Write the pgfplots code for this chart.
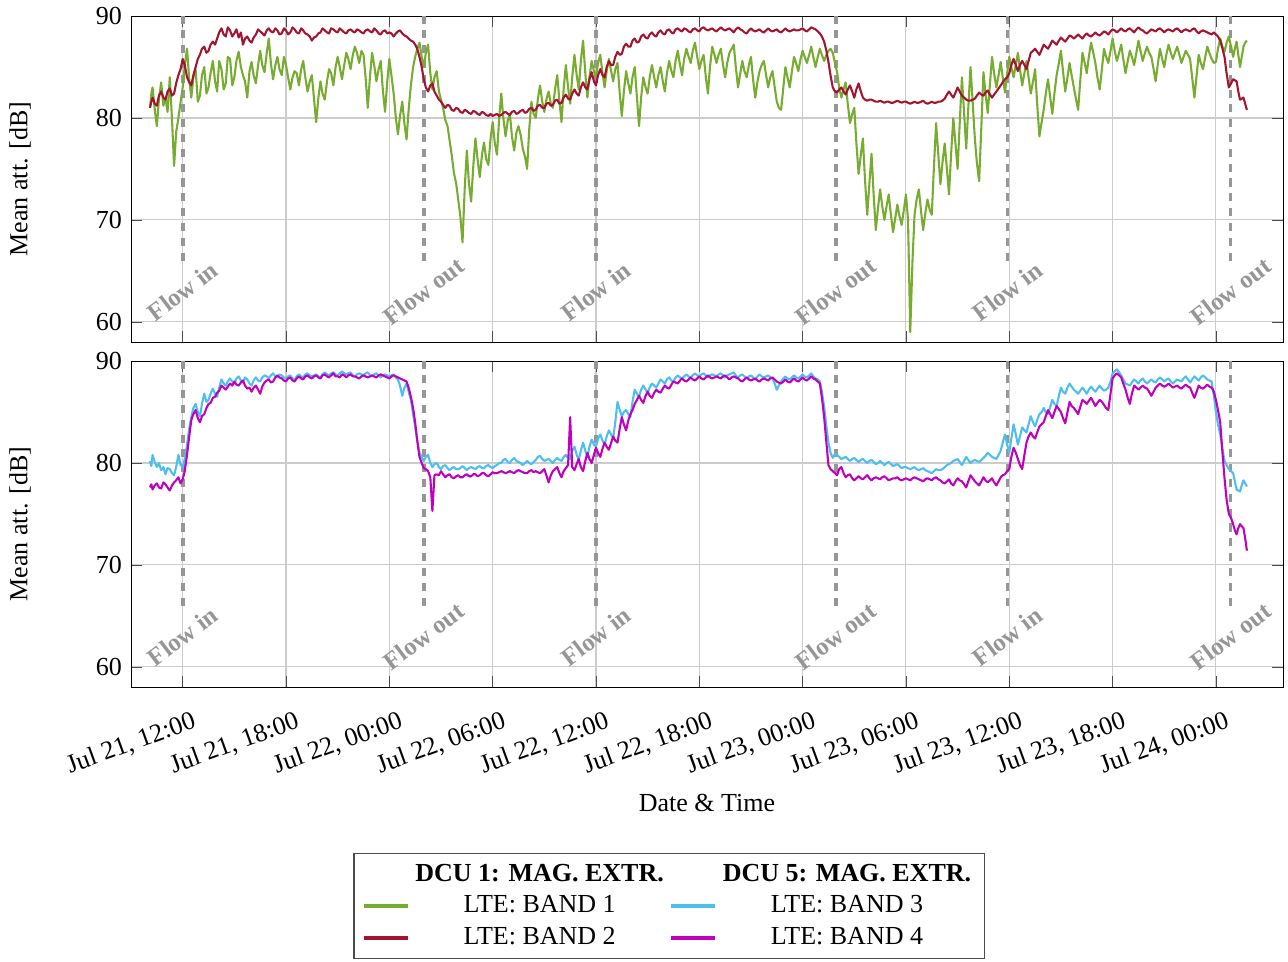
\documentclass[border=0pt]{standalone}
\usepackage{fontspec}
\setmainfont{Liberation Serif}
\usepackage{pgfplots}
\usepackage{pgfplotstable}
\pgfplotsset{compat=1.18}

\definecolor{bandA}{RGB}{119,172,48}
\definecolor{bandB}{RGB}{162,20,47}
\definecolor{bandC}{RGB}{77,190,238}
\definecolor{bandD}{RGB}{191,0,191}
\definecolor{flowgray}{RGB}{150,150,150}

% t = hours since Jul 21, 00:00; b1..b4 = mean attenuation in dB
\pgfplotstableread{
t b1 b2 b3 b4
10.1 81.0 81.0 80.2 77.6
10.18 82.4 81.6 79.7 77.9
10.25 83.0 82.0 80.8 77.4
10.38 80.8 81.4 80.1 77.8
10.5 79.2 81.2 79.6 78.0
10.62 81.8 82.2 80.0 77.6
10.75 83.5 82.6 79.3 77.5
10.88 81.2 82.0 79.6 78.1
11.0 82.0 81.8 78.9 77.9
11.12 80.6 82.6 79.5 77.6
11.25 84.0 82.9 79.4 77.3
11.38 79.8 82.2 79.0 77.8
11.5 75.3 82.4 78.8 78.1
11.62 78.6 83.4 79.6 78.3
11.75 80.0 84.2 80.8 78.6
11.88 81.6 84.8 79.8 78.0
12.0 83.0 85.8 79.6 78.4
12.12 85.2 85.2 80.4 79.2
12.25 86.8 84.0 81.8 80.8
12.38 83.8 83.5 83.4 82.6
12.5 82.0 83.2 84.5 84.2
12.62 84.0 84.2 85.4 84.8
12.75 84.8 85.0 85.8 85.2
12.88 81.6 85.8 85.0 84.4
13.0 82.2 86.2 84.6 84.0
13.12 84.2 86.8 85.8 84.6
13.25 85.0 87.0 86.8 84.8
13.38 82.4 86.4 86.0 85.4
13.5 83.0 86.6 86.2 85.8
13.62 84.4 87.2 86.8 85.9
13.75 85.6 87.5 87.3 86.4
13.88 83.6 87.2 86.8 86.5
14.0 82.6 87.8 86.5 86.9
14.12 85.6 88.4 87.4 87.1
14.25 84.8 88.8 88.2 87.6
14.38 82.8 88.2 87.8 87.4
14.5 83.4 88.0 87.6 87.2
14.62 86.0 88.9 88.0 87.5
14.75 85.8 88.6 88.3 87.8
14.88 83.2 88.0 88.0 87.6
15.0 84.0 88.3 87.8 88.0
15.12 85.6 88.7 88.3 87.7
15.25 86.5 87.9 88.5 87.6
15.38 85.0 88.4 88.1 87.9
15.5 84.2 87.2 87.9 88.1
15.62 83.6 87.8 88.4 87.6
15.75 82.0 88.0 88.2 87.3
15.88 84.6 87.6 87.8 87.4
16.0 85.5 87.4 87.6 87.0
16.12 84.2 87.9 88.1 87.4
16.25 83.4 88.2 88.4 87.6
16.38 85.2 88.7 88.1 87.2
16.5 86.6 88.5 88.0 86.8
16.62 85.2 88.3 88.4 87.5
16.75 84.5 88.1 88.6 87.9
16.88 86.4 88.6 88.5 88.1
17.0 87.8 88.8 88.3 88.2
17.12 85.4 88.5 88.6 87.9
17.25 83.8 88.4 88.8 88.0
17.38 85.2 88.8 88.5 88.4
17.5 86.0 88.6 88.4 88.6
17.62 84.8 88.2 88.7 88.4
17.75 84.2 88.3 88.6 88.3
17.88 86.0 88.8 88.4 88.1
18.0 85.2 88.6 88.3 88.0
18.12 84.0 88.2 88.5 88.3
18.25 82.8 88.4 88.6 88.4
18.38 84.0 88.9 88.3 88.1
18.5 84.6 88.7 88.2 88.0
18.62 84.4 88.4 88.5 88.3
18.75 83.2 88.3 88.7 88.5
18.88 84.8 88.8 88.5 88.3
19.0 85.6 88.6 88.4 88.2
19.12 84.0 88.3 88.7 88.5
19.25 82.6 88.2 88.8 88.6
19.38 83.6 88.0 88.6 88.4
19.5 84.2 87.6 88.5 88.3
19.62 82.0 87.9 88.6 88.5
19.75 79.6 88.0 88.7 88.6
19.88 82.0 88.3 88.5 88.4
20.0 83.6 88.4 88.4 88.3
20.12 82.4 88.8 88.7 88.6
20.25 81.8 88.6 88.9 88.7
20.38 83.6 88.4 88.7 88.5
20.5 84.8 88.3 88.6 88.4
20.62 84.4 88.8 88.8 88.6
20.75 83.2 88.7 88.9 88.8
20.88 85.0 88.5 88.7 88.5
21.0 86.0 88.4 88.6 88.5
21.12 85.0 88.8 88.8 88.4
21.25 83.8 88.6 89.0 88.7
21.38 85.2 88.4 88.8 88.6
21.5 86.4 88.3 88.7 88.4
21.62 85.8 88.6 88.8 88.6
21.75 84.8 88.7 88.9 88.7
21.88 86.2 88.5 88.6 88.5
22.0 87.0 88.4 88.5 88.5
22.12 86.4 88.7 88.7 88.4
22.25 85.4 88.6 88.8 88.3
22.38 86.6 88.4 88.7 88.5
22.5 86.2 88.3 88.6 88.6
22.62 84.0 88.6 88.8 88.5
22.75 81.0 88.7 88.9 88.4
22.88 84.2 88.5 88.6 88.5
23.0 86.4 88.4 88.5 88.6
23.12 85.2 88.8 88.7 88.5
23.25 83.6 88.6 88.8 88.4
23.38 84.8 88.3 88.6 88.6
23.5 85.6 88.2 88.4 88.7
23.62 82.8 88.5 88.6 88.6
23.75 80.6 88.6 88.7 88.5
23.88 83.6 88.3 88.6 88.4
24.0 85.8 88.4 88.5 88.3
24.12 84.2 88.3 88.6 88.5
24.25 82.4 88.0 88.7 88.6
24.38 80.0 88.3 88.4 88.5
24.5 78.4 88.5 88.2 88.4
24.62 80.2 88.6 87.6 88.3
24.75 81.6 88.3 86.6 88.2
24.88 79.4 88.1 87.4 88.1
25.0 77.9 88.0 87.8 88.0
25.12 80.8 87.8 87.0 87.4
25.25 83.2 87.6 86.2 86.5
25.38 85.0 87.5 84.8 85.4
25.5 86.0 87.2 83.5 84.0
25.62 86.8 86.8 82.2 82.2
25.75 87.4 86.0 81.0 80.6
25.88 86.0 85.0 80.6 80.0
26.0 85.0 83.8 80.2 79.5
26.12 86.4 83.0 80.6 79.4
26.25 87.2 82.6 80.8 79.2
26.38 84.4 83.2 80.0 78.6
26.5 82.8 83.4 79.6 75.3
26.62 84.0 82.6 79.9 78.8
26.75 84.6 82.2 80.0 78.9
26.88 82.6 81.8 79.6 78.8
27.0 81.8 81.6 79.4 79.2
27.12 81.0 81.3 79.7 78.9
27.25 79.8 81.0 79.8 78.6
27.38 79.2 81.3 79.5 78.8
27.5 77.8 81.2 79.3 78.9
27.62 76.4 80.8 79.5 78.6
27.75 74.6 80.7 79.6 78.5
27.88 73.6 81.0 79.4 78.7
28.0 72.0 80.9 79.4 78.8
28.12 70.4 80.6 79.5 78.6
28.25 67.8 80.5 79.7 78.6
28.38 73.2 80.8 79.5 78.8
28.5 76.8 80.7 79.3 78.9
28.62 73.6 80.5 79.5 78.7
28.75 71.8 80.4 79.6 78.7
28.88 75.4 80.7 79.5 78.9
29.0 78.0 80.6 79.4 78.9
29.12 76.0 80.4 79.6 78.7
29.25 74.2 80.3 79.7 78.8
29.38 76.4 80.6 79.5 79.0
29.5 77.6 80.5 79.5 79.0
29.62 76.0 80.3 79.7 78.8
29.75 75.4 80.2 79.8 78.7
29.88 78.0 80.4 79.6 78.9
30.0 79.6 80.2 79.5 79.1
30.12 77.6 80.3 79.7 79.0
30.25 76.4 80.4 79.8 79.0
30.38 80.0 80.2 80.0 79.1
30.5 82.4 80.3 80.0 79.2
30.62 80.0 80.5 80.3 79.1
30.75 78.2 80.6 80.4 79.0
30.88 79.8 80.4 80.1 79.1
31.0 80.4 80.3 80.0 79.2
31.12 78.2 80.6 80.3 79.1
31.25 76.8 80.7 80.5 79.0
31.38 78.6 80.4 80.2 79.2
31.5 79.2 80.5 80.1 79.3
31.62 78.4 80.7 80.0 79.2
31.75 77.0 80.8 79.8 79.1
31.88 76.2 80.5 80.0 79.0
32.0 75.0 80.6 80.2 79.0
32.12 78.8 80.9 80.0 79.2
32.25 81.6 81.0 79.9 79.3
32.38 80.4 80.7 80.1 79.1
32.5 80.0 80.8 80.3 79.2
32.62 81.8 81.2 80.6 79.1
32.75 83.2 81.3 80.7 79.0
32.88 81.6 81.0 80.4 79.2
33.0 80.6 81.0 80.2 79.4
33.12 81.8 81.4 80.3 78.8
33.25 82.6 81.5 80.4 78.1
33.38 81.4 81.2 80.2 78.8
33.5 81.0 81.3 80.0 79.2
33.62 82.8 81.7 80.3 79.4
33.75 84.2 81.8 80.5 79.6
33.88 81.6 81.4 80.3 79.0
34.0 79.6 81.5 80.2 78.6
34.12 82.8 82.0 80.6 79.2
34.25 85.2 82.3 80.8 79.5
34.38 83.0 81.9 80.5 79.8
34.5 81.4 81.8 80.4 84.5
34.62 84.0 82.4 81.2 79.6
34.75 86.2 82.8 81.6 79.3
34.88 84.2 82.4 80.8 79.9
35.0 82.8 82.2 80.3 80.4
35.12 85.6 83.0 81.2 79.6
35.25 87.6 83.5 82.0 79.2
35.38 84.4 83.0 81.2 80.2
35.5 82.0 82.8 80.6 81.0
35.62 84.0 83.8 81.6 80.4
35.75 85.6 84.5 82.3 80.0
35.88 84.6 83.6 81.8 80.8
36.0 84.0 83.2 81.6 81.5
36.12 85.4 84.2 82.4 81.0
36.25 86.2 84.8 82.8 80.6
36.38 84.4 84.2 82.2 81.4
36.5 83.0 84.0 81.8 82.0
36.62 84.6 85.0 82.6 81.6
36.75 85.8 85.6 83.2 81.3
36.88 84.6 85.2 82.8 82.0
37.0 83.6 85.2 82.4 82.6
37.12 84.8 86.0 84.0 82.2
37.25 85.4 86.5 86.0 82.0
37.38 82.4 86.2 85.2 83.4
37.5 80.2 86.3 84.6 84.5
37.62 82.6 87.0 85.0 83.8
37.75 84.6 87.3 85.2 83.2
37.88 83.4 87.0 84.8 84.2
38.0 82.4 87.0 84.5 84.8
38.12 84.0 87.6 86.0 85.2
38.25 85.0 87.8 87.2 85.8
38.38 82.0 87.4 86.8 86.2
38.5 79.2 87.5 86.5 86.6
38.62 82.0 88.0 87.2 86.2
38.75 84.0 88.2 87.6 85.9
38.88 83.0 87.9 87.2 86.6
39.0 82.4 87.8 86.9 87.0
39.12 84.0 88.2 87.4 86.6
39.25 85.2 88.4 87.8 86.4
39.38 84.0 88.1 87.6 86.9
39.5 83.0 88.0 87.4 87.2
39.62 84.2 88.4 87.8 87.0
39.75 85.0 88.6 88.2 86.9
39.88 83.6 88.3 88.0 87.3
40.0 82.6 88.2 87.8 87.6
40.12 84.4 88.6 88.2 87.4
40.25 85.6 88.7 88.4 87.3
40.38 84.6 88.4 88.1 87.7
40.5 84.0 88.3 88.0 88.0
40.62 85.6 88.7 88.4 87.9
40.75 86.6 88.8 88.6 87.8
40.88 85.2 88.6 88.4 88.1
41.0 84.2 88.5 88.3 88.3
41.12 85.8 88.8 88.5 88.1
41.25 86.8 88.7 88.7 88.0
41.38 86.0 88.5 88.5 88.2
41.5 85.4 88.4 88.4 88.4
41.62 86.6 88.7 88.6 88.2
41.75 87.4 88.8 88.8 88.1
41.88 86.0 88.6 88.6 88.3
42.0 84.8 88.5 88.5 88.5
42.12 85.6 88.8 88.7 88.3
42.25 86.2 88.9 88.8 88.2
42.38 84.0 88.7 88.6 88.4
42.5 82.4 88.6 88.4 88.6
42.62 85.0 88.7 88.6 88.4
42.75 87.0 88.8 88.7 88.3
42.88 86.2 88.6 88.6 88.4
43.0 85.4 88.5 88.5 88.5
43.12 86.2 88.7 88.7 88.4
43.25 86.8 88.9 88.8 88.3
43.38 85.2 88.7 88.6 88.5
43.5 84.0 88.6 88.4 88.6
43.62 85.4 88.7 88.6 88.4
43.75 86.4 88.8 88.7 88.2
43.88 86.8 88.6 88.8 88.4
44.0 87.2 88.4 88.9 88.5
44.12 85.0 88.7 88.6 88.4
44.25 83.0 88.9 88.4 88.3
44.38 84.4 88.7 88.6 88.1
44.5 85.6 88.6 88.7 88.0
44.62 84.6 88.4 88.5 88.2
44.75 84.0 88.3 88.3 88.4
44.88 85.2 88.6 88.5 88.2
45.0 86.0 88.8 88.6 88.1
45.12 83.8 88.6 88.4 88.2
45.25 82.0 88.5 88.2 88.3
45.38 83.6 88.6 88.5 88.1
45.5 84.6 88.7 88.7 88.0
45.62 85.2 88.5 88.5 88.2
45.75 85.6 88.4 88.4 88.3
45.88 84.2 88.6 88.5 88.2
46.0 83.0 88.8 88.6 88.1
46.12 84.0 88.6 88.4 88.3
46.25 84.6 88.5 88.3 88.4
46.38 83.0 88.6 87.8 88.2
46.5 81.6 88.7 87.2 88.0
46.62 81.0 88.5 87.6 87.9
46.75 80.8 88.4 88.0 87.8
46.88 83.0 88.6 88.3 88.0
47.0 85.0 88.8 88.5 88.2
47.12 84.0 88.6 88.3 88.0
47.25 83.0 88.5 88.2 87.9
47.38 84.6 88.6 88.4 88.1
47.5 86.0 88.7 88.6 88.3
47.62 85.4 88.6 88.4 88.1
47.75 84.6 88.6 88.3 88.0
47.88 85.8 88.7 88.5 88.2
48.0 86.6 88.8 88.7 88.4
48.12 86.0 88.6 88.5 88.2
48.25 85.4 88.5 88.4 88.1
48.38 86.2 88.7 88.6 88.3
48.5 87.0 88.9 88.8 88.5
48.62 86.0 88.8 88.5 88.3
48.75 85.0 88.7 88.3 88.2
48.88 86.0 88.5 88.2 88.0
49.0 86.8 88.3 88.0 87.8
49.12 86.2 88.0 87.0 86.4
49.25 85.6 87.5 85.5 84.5
49.38 86.2 86.6 83.6 82.0
49.5 86.6 85.5 82.0 79.8
49.62 86.8 84.2 81.0 79.4
49.75 86.4 83.0 80.5 79.2
49.88 85.4 82.6 80.9 79.0
50.0 84.5 82.5 80.8 78.8
50.12 83.0 82.8 80.6 79.4
50.25 82.0 83.0 80.4 79.6
50.38 82.8 82.6 80.5 79.0
50.5 83.5 82.3 80.6 78.6
50.62 81.4 82.8 80.4 78.8
50.75 79.5 83.2 80.2 78.9
50.88 80.4 82.6 80.4 78.5
51.0 81.0 82.0 80.5 78.3
51.12 77.6 82.8 80.3 78.5
51.25 74.5 83.4 80.1 78.7
51.38 76.4 82.6 80.3 78.5
51.5 78.0 82.0 80.4 78.4
51.62 74.0 81.8 80.2 78.6
51.75 70.5 81.7 80.0 78.8
51.88 73.6 81.8 80.2 78.5
52.0 76.5 81.8 80.3 78.3
52.12 72.6 81.7 80.1 78.5
52.25 69.0 81.6 79.9 78.6
52.38 71.2 81.6 80.0 78.5
52.5 73.0 81.7 80.2 78.4
52.62 71.4 81.6 80.0 78.6
52.75 70.0 81.5 79.8 78.7
52.88 71.4 81.6 80.0 78.5
53.0 72.5 81.6 80.1 78.3
53.12 70.6 81.5 79.9 78.4
53.25 68.8 81.5 79.7 78.5
53.38 70.2 81.6 79.8 78.5
53.5 71.5 81.7 79.9 78.6
53.62 70.4 81.6 79.7 78.4
53.75 69.5 81.5 79.5 78.3
53.88 71.0 81.6 79.6 78.4
54.0 72.5 81.6 79.6 78.5
54.12 70.0 81.5 79.5 78.4
54.25 59.0 81.4 79.4 78.3
54.38 66.0 81.5 79.5 78.5
54.5 70.5 81.6 79.6 78.6
54.62 72.0 81.5 79.4 78.5
54.75 73.0 81.5 79.3 78.4
54.88 70.8 81.6 79.4 78.3
55.0 69.0 81.7 79.5 78.2
55.12 70.6 81.5 79.3 78.4
55.25 72.0 81.4 79.2 78.5
55.38 71.0 81.5 79.1 78.4
55.5 70.5 81.6 79.0 78.3
55.62 75.0 81.5 79.2 78.5
55.75 79.5 81.5 79.4 78.6
55.88 76.4 81.6 79.3 78.4
56.0 73.5 81.6 79.3 78.3
56.12 75.6 81.7 79.4 78.1
56.25 77.5 81.9 79.6 78.0
56.38 75.0 82.3 79.8 78.2
56.5 72.5 82.6 79.9 78.4
56.62 76.4 82.3 80.0 78.0
56.75 80.0 82.0 80.2 77.8
56.88 77.4 82.5 80.3 78.2
57.0 75.0 83.0 80.4 78.5
57.12 79.4 82.6 80.1 78.3
57.25 84.0 82.2 79.8 78.2
57.38 80.4 82.0 80.2 77.9
57.5 77.0 81.8 80.6 77.6
57.62 81.0 81.7 80.3 78.2
57.75 85.0 81.7 80.0 78.8
57.88 81.4 81.8 80.2 78.5
58.0 78.0 81.9 80.3 78.2
58.12 75.6 82.2 80.2 78.0
58.25 73.8 82.5 80.1 77.8
58.38 79.2 82.3 80.3 78.2
58.5 84.5 82.2 80.5 78.6
58.62 82.4 82.5 80.7 78.3
58.75 80.5 82.7 81.0 78.1
58.88 83.4 82.3 80.8 78.3
59.0 86.0 82.0 80.6 78.5
59.12 84.4 82.3 80.5 78.1
59.25 83.0 82.6 80.4 77.8
59.38 84.2 82.9 80.8 78.2
59.5 85.5 83.2 81.2 78.6
59.62 84.0 83.5 82.0 78.8
59.75 82.5 83.8 82.8 78.9
59.88 84.4 84.0 81.8 79.2
60.0 86.0 84.4 81.0 79.4
60.12 85.0 85.2 82.4 80.6
60.25 84.0 85.8 83.8 81.5
60.38 85.2 85.2 82.8 81.0
60.5 86.4 84.6 81.8 80.4
60.62 84.8 85.2 82.6 79.8
60.75 83.2 85.6 83.5 79.4
60.88 84.4 85.2 83.2 80.8
61.0 85.6 84.8 83.0 82.0
61.12 84.0 85.6 83.8 82.6
61.25 82.4 86.4 84.6 83.0
61.38 83.6 86.6 84.0 82.6
61.5 84.8 86.8 83.6 82.4
61.62 81.4 86.5 84.2 83.0
61.75 78.2 86.2 84.8 83.6
61.88 79.6 86.7 85.0 83.8
62.0 80.8 87.2 85.4 84.0
62.12 82.4 87.0 85.0 84.6
62.25 83.8 86.8 84.8 85.2
62.38 82.0 87.2 85.5 84.8
62.5 80.4 87.6 86.2 84.4
62.62 82.4 87.4 85.8 85.0
62.75 84.2 87.2 85.6 85.6
62.88 85.4 87.6 86.6 85.3
63.0 86.6 87.9 87.4 85.0
63.12 84.6 87.7 87.0 84.4
63.25 82.6 87.5 86.8 83.9
63.38 84.0 87.8 87.4 85.0
63.5 85.4 88.1 87.8 86.0
63.62 84.2 88.0 87.5 85.6
63.75 83.0 87.8 87.2 85.4
63.88 81.8 88.0 87.0 85.1
64.0 80.8 88.2 86.8 84.8
64.12 83.6 88.0 87.1 85.5
64.25 86.4 87.8 87.4 86.2
64.38 85.4 88.1 87.1 86.0
64.5 84.4 88.3 86.8 85.8
64.62 86.0 88.1 87.2 86.1
64.75 87.4 88.0 87.5 86.4
64.88 86.4 88.2 87.2 86.0
65.0 85.4 88.4 87.0 85.6
65.12 84.0 88.2 87.3 85.9
65.25 82.8 88.1 87.6 86.2
65.38 84.8 88.3 87.3 86.0
65.5 86.8 88.5 87.1 85.7
65.62 86.0 88.4 87.2 85.4
65.75 85.4 88.2 87.4 85.2
65.88 86.6 88.5 88.0 86.8
66.0 87.8 88.7 88.8 88.3
66.12 86.6 88.6 89.0 88.6
66.25 85.6 88.4 89.2 88.8
66.38 86.4 88.6 88.9 88.6
66.5 87.2 88.8 88.6 88.4
66.62 85.8 88.6 88.2 87.8
66.75 84.4 88.5 87.8 87.2
66.88 85.6 88.7 87.7 86.4
67.0 86.6 88.8 87.6 85.8
67.12 86.0 88.6 87.9 86.8
67.25 85.2 88.4 88.2 87.6
67.38 86.4 88.7 88.0 87.4
67.5 87.6 88.9 87.8 87.2
67.62 86.6 88.7 88.1 87.4
67.75 85.6 88.6 88.3 87.6
67.88 86.4 88.4 88.0 87.4
68.0 87.0 88.3 87.8 87.3
68.12 86.4 88.5 88.0 87.0
68.25 86.0 88.7 88.2 86.6
68.38 84.8 88.6 88.0 87.0
68.5 83.6 88.5 87.9 87.4
68.62 85.2 88.7 88.2 87.6
68.75 86.8 88.8 88.4 87.8
68.88 85.8 88.6 88.2 87.6
69.0 85.0 88.4 88.0 87.5
69.12 86.2 88.6 88.2 87.6
69.25 87.2 88.7 88.3 87.8
69.38 86.4 88.6 88.0 87.6
69.5 85.8 88.5 87.8 87.4
69.62 86.4 88.7 88.0 87.5
69.75 87.0 88.8 88.2 87.6
69.88 86.2 88.6 88.1 87.4
70.0 85.4 88.4 88.0 87.3
70.12 86.0 88.6 88.3 87.5
70.25 86.6 88.7 88.5 87.7
70.38 86.2 88.6 88.2 87.5
70.5 85.8 88.5 87.9 87.4
70.62 84.0 88.7 88.2 86.9
70.75 82.0 88.8 88.5 86.4
70.88 84.2 88.5 88.3 87.0
71.0 86.2 88.3 88.1 87.6
71.12 85.4 88.5 88.4 87.4
71.25 84.8 88.6 88.6 87.3
71.38 86.0 88.5 88.4 87.5
71.5 87.0 88.4 88.2 87.7
71.62 86.4 88.3 88.1 87.5
71.75 85.8 88.2 88.0 87.4
71.88 85.4 88.4 86.6 87.0
72.0 85.5 88.2 85.0 86.2
72.12 86.8 88.0 83.8 85.2
72.25 87.8 87.6 82.8 84.0
72.38 87.0 86.8 81.4 81.0
72.5 86.5 86.0 80.2 78.5
72.62 87.4 84.4 79.8 76.4
72.75 88.0 83.0 79.4 75.0
72.88 87.0 83.4 79.2 74.6
73.0 86.0 83.8 79.0 74.0
73.1 86.8 83.7 78.2 73.4
73.2 87.5 83.6 77.4 73.0
73.3 86.2 82.6 77.3 73.6
73.4 85.0 81.8 77.2 74.0
73.5 86.0 81.9 77.8 73.8
73.6 87.0 82.0 78.3 73.6
73.7 87.4 81.4 78.0 72.6
73.8 87.6 80.8 77.7 71.4
}\attdata

\pgfplotsset{
  attaxis/.style={
    width=443.1pt, height=125.4pt, scale only axis,
    xmin=9, xmax=75.9, ymin=58, ymax=90,
    xtick={12,18,24,30,36,42,48,54,60,66,72},
    ytick={60,70,80,90},
    grid=major,
    grid style={line width=0.4pt, black!20},
    tick style={black!70},
    /pgf/number format/assume math mode=true,
    ylabel={Mean att. [dB]},
    ylabel style={at={(axis description cs:-0.0964,0.5)}, anchor=center},
    every axis plot/.append style={line width=0.8pt, line join=round},
  },
}

% dashed marker for a flow event, with its rotated caption
\newcommand{\flowmark}[2]{%
  \addplot[flowgray, line width=1.4pt, dash pattern=on 3.1pt off 2.6pt, forget plot]
    coordinates {(#1,66) (#1,90)};
  \node[rotate=37, text=flowgray, font=\fontsize{9.6}{11}\selectfont\bfseries]
    at (axis cs:#1,63) {#2};
}

\newcommand{\allflows}{%
  \flowmark{12}{Flow in}
  \flowmark{26}{Flow out}
  \flowmark{36}{Flow in}
  \flowmark{49.92}{Flow out}
  \flowmark{59.9}{Flow in}
  \flowmark{72.85}{Flow out}
}

\begin{document}
\begin{tikzpicture}
\begin{axis}[attaxis, at={(0,0)}, anchor=south west, xticklabels={}]
  \allflows
  \addplot[bandA, forget plot] table[x=t, y=b1] {\attdata};
  \addplot[bandB, forget plot] table[x=t, y=b2] {\attdata};
\end{axis}

\begin{axis}[attaxis, at={(0,-7.3pt)}, anchor=north west,
  xticklabels={{Jul 21, 12:00},{Jul 21, 18:00},{Jul 22, 00:00},{Jul 22, 06:00},
               {Jul 22, 12:00},{Jul 22, 18:00},{Jul 23, 00:00},{Jul 23, 06:00},
               {Jul 23, 12:00},{Jul 23, 18:00},{Jul 24, 00:00}},
  xticklabel style={xshift=5.3pt, yshift=-4.4pt, rotate=20, anchor=north east},
  xlabel={Date \& Time},
  xlabel style={at={(axis description cs:0.5,-0.356)}, anchor=center},
  legend columns=2,
  legend cell align=center,
  legend image code/.code={\draw[line width=1.6pt] (0cm,0cm) -- (0.6cm,0cm);},
  legend style={at={(axis description cs:0.467,-0.509)}, anchor=north,
    draw=black!70, line width=0.5pt, column sep=0pt},
]
  \addlegendimage{empty legend}
  \addlegendentry{\textbf{DCU 1: MAG. EXTR.}}
  \addlegendimage{empty legend}
  \addlegendentry{\textbf{DCU 5: MAG. EXTR.}}
  \addlegendimage{bandA}
  \addlegendentry{LTE: BAND 1}
  \addlegendimage{bandC}
  \addlegendentry{LTE: BAND 3}
  \addlegendimage{bandB}
  \addlegendentry{LTE: BAND 2}
  \addlegendimage{bandD}
  \addlegendentry{LTE: BAND 4}
  \allflows
  \addplot[bandC, forget plot] table[x=t, y=b3] {\attdata};
  \addplot[bandD, forget plot] table[x=t, y=b4] {\attdata};
\end{axis}

\pgfresetboundingbox
\useasboundingbox (-50.4pt,-238.1pt) rectangle (445pt,131.6pt);
\end{tikzpicture}
\end{document}
